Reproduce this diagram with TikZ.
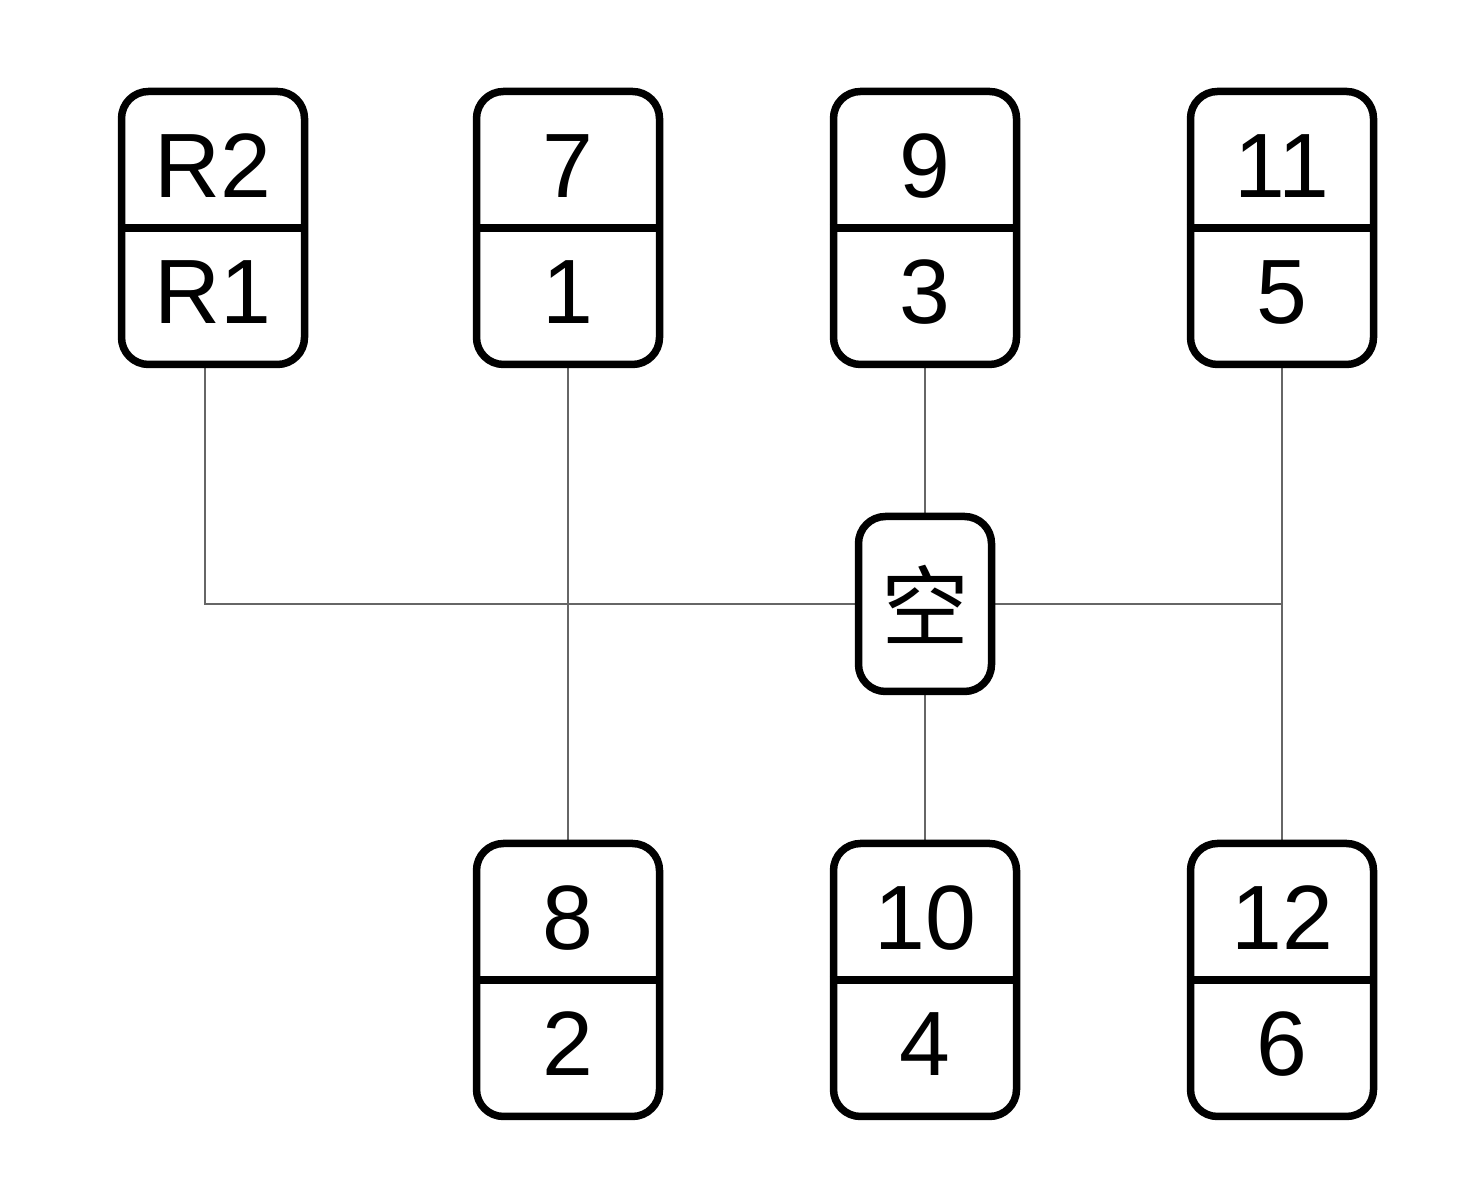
\documentclass[tikz,border=0pt]{standalone}
\usepackage{fontspec}
\setmainfont{Liberation Sans}
\newfontfamily\cjkfont{Noto Sans CJK SC}
\usetikzlibrary{calc,backgrounds}

% one gate of the shift pattern: box, divider, upper and lower gear
\newcommand{\gate}[5]{%
  \node[gatebox] (#1) at (#2,#3) {};
  \draw[gateline] (#1.west) -- (#1.east); % divider
  \node[gearlabel] (#1-t) at ($(#1.center)+(0,0.30)$) {#4};
  \node[gearlabel] (#1-b) at ($(#1.center)+(0,-0.96)$) {#5};
}

\begin{document}
\begin{tikzpicture}[
  gatebox/.style={draw, line width=0.075cm, rounded corners=0.27cm, fill=white,
    minimum width=1.83cm, minimum height=2.73cm, inner sep=0pt},
  gateline/.style={line width=0.075cm},
  gearlabel/.style={anchor=base, inner sep=0pt, font=\fontsize{26}{30}\selectfont},
  link/.style={draw=black!60, line width=0.025cm}
]
  \useasboundingbox (0,0) rectangle (14.67,12.02); % page size

  \gate{r}{2.13}{9.74}{R2}{R1}
  \gate{g7}{5.68}{9.74}{7}{1}
  \gate{g9}{9.25}{9.74}{9}{3}
  \gate{g11}{12.82}{9.74}{11}{5}
  \gate{g8}{5.68}{2.22}{8}{2}
  \gate{g10}{9.25}{2.22}{10}{4}
  \gate{g12}{12.82}{2.22}{12}{6}

  \node[gatebox, minimum width=1.33cm, minimum height=1.75cm] (n) at (9.25,5.98)
    {\cjkfont\fontsize{25}{29}\selectfont 空}; % neutral

  % lanes, drawn behind the boxes
  \begin{scope}[on background layer]
    \draw[link] ([xshift=-0.8mm]r.south) |- (n.west); % reverse lane
    \draw[link] (n.east) -- (n.east -| g11.south); % cross lane
    \draw[link] (g7.south) -- (g8.north);
    \draw[link] (g9.south) -- (n.north);
    \draw[link] (n.south) -- (g10.north);
    \draw[link] (g11.south) -- (g12.north);
  \end{scope}
\end{tikzpicture}
\end{document}
